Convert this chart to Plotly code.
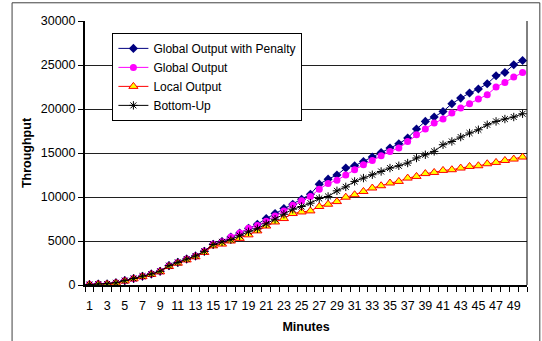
import plotly.graph_objects as go

minutes = list(range(1, 51))
tick_labels = [str(m) if m % 2 == 1 else "" for m in minutes]

global_penalty = [50, 100, 120, 250, 500, 740, 1000, 1250, 1560, 2200,
                  2570, 2950, 3300, 3830, 4620, 4950, 5450, 5900, 6450, 6900,
                  7550, 8120, 8690, 9180, 9750, 10320, 11460, 12030, 12500, 13300,
                  13550, 14040, 14540, 15060, 15560, 16050, 16700, 17720, 18590, 19090,
                  19720, 20600, 21240, 21810, 22270, 22870, 23780, 24150, 25030, 25510]
global_output = [50, 100, 120, 250, 500, 740, 1000, 1250, 1560, 2200,
                 2570, 2950, 3300, 3830, 4620, 4950, 5450, 5900, 6450, 6750,
                 7250, 7850, 8420, 9070, 9560, 10060, 10890, 11540, 11900, 12500,
                 13100, 13670, 14150, 14690, 15180, 15560, 16310, 17070, 17730, 18400,
                 18860, 19540, 20110, 20600, 21130, 21620, 22490, 23020, 23630, 24150]
local_output = [40, 90, 100, 220, 450, 700, 950, 1200, 1500, 2100,
                2480, 2850, 3200, 3700, 4450, 4650, 5000, 5300, 5700, 6150,
                6700, 7160, 7550, 8120, 8300, 8420, 8920, 9180, 9480, 9980,
                10260, 10630, 11020, 11280, 11590, 11770, 12150, 12340, 12660, 12790,
                13020, 13100, 13290, 13470, 13550, 13780, 13930, 14150, 14310, 14540]
bottom_up = [50, 100, 120, 250, 500, 740, 1000, 1250, 1560, 2200,
             2570, 2950, 3300, 3830, 4600, 4900, 5150, 5600, 6050, 6400,
             6950, 7470, 8040, 8610, 8920, 9300, 9830, 10060, 10700, 11150,
             11770, 12150, 12530, 12900, 13290, 13550, 13860, 14430, 14800, 15180,
             15940, 16310, 16810, 17270, 17640, 18210, 18590, 18860, 19090, 19460]
y_ticks = [0, 5000, 10000, 15000, 20000, 25000, 30000]

fig = go.Figure()
fig.add_trace(go.Scatter(
    x=minutes, y=global_penalty, name="Global Output with Penalty", mode="lines+markers",
    line=dict(color="#000080", width=1),
    marker=dict(symbol="diamond", size=7, color="#000080")))
fig.add_trace(go.Scatter(
    x=minutes, y=global_output, name="Global Output", mode="lines+markers",
    line=dict(color="#FF00FF", width=1),
    marker=dict(symbol="circle", size=7, color="#FF00FF")))
fig.add_trace(go.Scatter(
    x=minutes, y=local_output, name="Local Output", mode="lines+markers",
    line=dict(color="#FF0000", width=1),
    marker=dict(symbol="triangle-up", size=8, color="#FFFF00",
                line=dict(color="#FF0000", width=1))))
fig.add_trace(go.Scatter(
    x=minutes, y=bottom_up, name="Bottom-Up", mode="lines+markers",
    line=dict(color="#000000", width=1),
    marker=dict(symbol="asterisk-open", size=7, color="#000000",
                line=dict(color="#000000", width=1))))

fam = "Liberation Sans, Arial, sans-serif"
tick_font = dict(family=fam, size=12.5, color="black")
title_font = dict(family=fam, size=12.5, color="black")
legend_font = dict(family=fam, size=12, color="black")

fig.update_layout(
    width=542, height=341,
    margin=dict(l=85, r=15, t=21, b=56),
    paper_bgcolor="white", plot_bgcolor="white",
    font=tick_font,
    showlegend=True,
    legend=dict(x=0.062, y=0.955, xanchor="left", yanchor="top",
                bgcolor="white", bordercolor="black", borderwidth=1,
                font=legend_font, tracegroupgap=0, itemwidth=30),
    xaxis=dict(
        type="linear", range=[0.5, 50.5], automargin=False,
        tickmode="array", tickvals=minutes, ticktext=tick_labels,
        ticks="", ticklabelstandoff=8,
        minor=dict(tickmode="array", tickvals=[m + 0.5 for m in [0] + minutes],
                   ticks="outside", ticklen=5, tickcolor="black", showgrid=False),
        showline=True, linecolor="black", linewidth=2,
        showgrid=False, zeroline=False,
        title=dict(text="<b>Minutes</b>", font=title_font, standoff=10),
        tickfont=tick_font,
    ),
    yaxis=dict(
        range=[0, 30000], tickmode="array", tickvals=y_ticks, automargin=False,
        ticktext=[str(v) for v in y_ticks],
        ticks="outside", ticklen=5, tickcolor="black",
        showline=True, linecolor="black", linewidth=2,
        showgrid=True, gridcolor="#202020", gridwidth=1,
        zeroline=False,
        title=dict(text="<b>Throughput</b>", font=title_font, standoff=6),
        tickfont=tick_font,
    ),
    shapes=[
        dict(type="line", xref="paper", yref="paper", x0=1, x1=1, y0=0, y1=1,
             line=dict(color="black", width=1)),
        dict(type="rect", xref="paper", yref="paper",
             x0=-0.165, x1=1.029, y0=-0.23, y1=1.069,
             line=dict(color="#404040", width=1)),
    ],
)

fig.write_html("out.html")
